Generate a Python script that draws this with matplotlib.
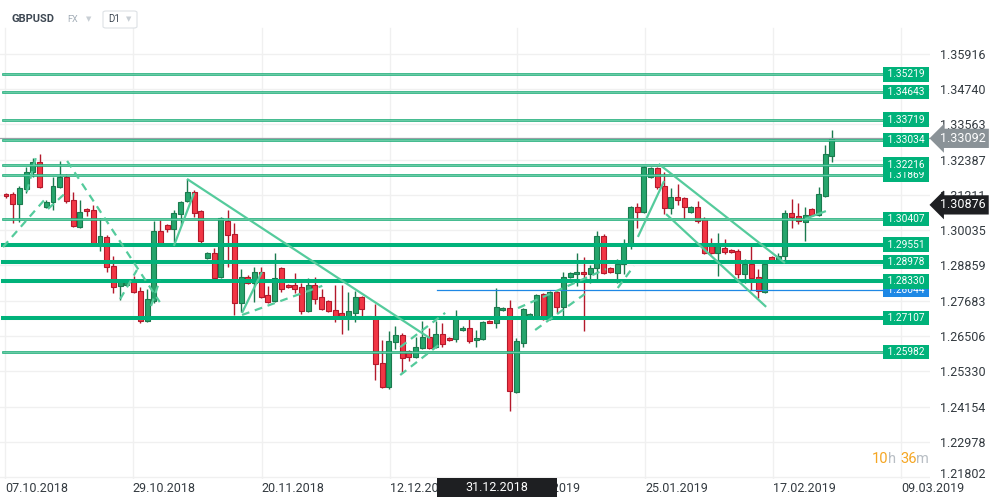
import numpy as np
import matplotlib
matplotlib.use("Agg")
import matplotlib.pyplot as plt
import matplotlib.transforms as mtransforms
from matplotlib.patches import Rectangle, FancyBboxPatch

plt.rcParams["font.family"] = ["Roboto", "DejaVu Sans"]

# GBPUSD daily candles, oldest first
opens = [1.3124, 1.3124, 1.3091, 1.3141, 1.3197, 1.3230, 1.3081, 1.3097, 1.3147, 1.3181,
         1.3104, 1.3014, 1.3074, 1.3071, 1.2957, 1.2981, 1.2884, 1.2818, 1.2821, 1.2834,
         1.2801, 1.2701, 1.2768, 1.3001, 1.3021, 1.3007, 1.3057, 1.3101, 1.3130, 1.3067,
         1.2911, 1.2927, 1.2848, 1.3034, 1.2991, 1.2761, 1.2848, 1.2828, 1.2864, 1.2788,
         1.2768, 1.2877, 1.2821, 1.2821, 1.2814, 1.2734, 1.2821, 1.2781, 1.2768, 1.2738,
         1.2728, 1.2714, 1.2728, 1.2781, 1.2713, 1.2714, 1.2561, 1.2481, 1.2631, 1.2654,
         1.2601, 1.2581, 1.2611, 1.2648, 1.2614, 1.2658, 1.2644, 1.2641, 1.2671, 1.2678,
         1.2638, 1.2641, 1.2701, 1.2694, 1.2738, 1.2744, 1.2465, 1.2628, 1.2714, 1.2718,
         1.2791, 1.2708, 1.2798, 1.2748, 1.2848, 1.2857, 1.2864, 1.2857, 1.2877, 1.2984,
         1.2877, 1.2861, 1.2891, 1.2954, 1.3081, 1.3064, 1.3181, 1.3211, 1.3151, 1.3077,
         1.3114, 1.3111, 1.3064, 1.3081, 1.3041, 1.2957, 1.2927, 1.2944, 1.2937, 1.2934,
         1.2857, 1.2891, 1.2848, 1.2798, 1.2914, 1.2897, 1.2917, 1.3061, 1.3051, 1.3031,
         1.3074, 1.3054, 1.3117, 1.3250]
highs = [1.3127, 1.3130, 1.3151, 1.3214, 1.3244, 1.3257, 1.3104, 1.3181, 1.3234, 1.3191,
         1.3130, 1.3104, 1.3077, 1.3087, 1.3044, 1.2987, 1.2917, 1.2841, 1.2834, 1.2851,
         1.2814, 1.2808, 1.3034, 1.3037, 1.3024, 1.3071, 1.3101, 1.3174, 1.3137, 1.3071,
         1.2931, 1.2944, 1.3047, 1.3071, 1.3027, 1.2874, 1.2854, 1.2881, 1.2881, 1.2818,
         1.2927, 1.2881, 1.2824, 1.2861, 1.2828, 1.2844, 1.2848, 1.2808, 1.2771, 1.2821,
         1.2821, 1.2798, 1.2801, 1.2784, 1.2717, 1.2758, 1.2638, 1.2668, 1.2684, 1.2661,
         1.2604, 1.2648, 1.2701, 1.2678, 1.2701, 1.2694, 1.2648, 1.2738, 1.2684, 1.2718,
         1.2671, 1.2701, 1.2704, 1.2811, 1.2748, 1.2771, 1.2644, 1.2744, 1.2728, 1.2791,
         1.2794, 1.2801, 1.2801, 1.2864, 1.2864, 1.2927, 1.2914, 1.2887, 1.3001, 1.2991,
         1.2881, 1.2907, 1.2974, 1.3084, 1.3094, 1.3217, 1.3214, 1.3214, 1.3197, 1.3144,
         1.3157, 1.3114, 1.3084, 1.3101, 1.3047, 1.2977, 1.2994, 1.2974, 1.2941, 1.2941,
         1.2907, 1.2957, 1.2874, 1.2891, 1.2917, 1.2927, 1.3071, 1.3107, 1.3094, 1.3081,
         1.3077, 1.3147, 1.3287, 1.3337]
lows = [1.3111, 1.3027, 1.3031, 1.3127, 1.3181, 1.3144, 1.3077, 1.3071, 1.3144, 1.3094,
        1.3014, 1.3011, 1.3051, 1.2954, 1.2934, 1.2864, 1.2794, 1.2771, 1.2818, 1.2794,
        1.2694, 1.2698, 1.2761, 1.2954, 1.2997, 1.2964, 1.3021, 1.3097, 1.3047, 1.2961,
        1.2907, 1.2831, 1.2844, 1.2881, 1.2721, 1.2731, 1.2824, 1.2764, 1.2778, 1.2761,
        1.2764, 1.2798, 1.2811, 1.2794, 1.2724, 1.2731, 1.2758, 1.2738, 1.2731, 1.2698,
        1.2658, 1.2671, 1.2698, 1.2711, 1.2711, 1.2505, 1.2478, 1.2475, 1.2608, 1.2528,
        1.2568, 1.2578, 1.2608, 1.2608, 1.2611, 1.2614, 1.2634, 1.2631, 1.2668, 1.2628,
        1.2614, 1.2638, 1.2694, 1.2678, 1.2734, 1.2401, 1.2461, 1.2614, 1.2711, 1.2714,
        1.2704, 1.2704, 1.2728, 1.2708, 1.2844, 1.2818, 1.2668, 1.2828, 1.2831, 1.2857,
        1.2861, 1.2828, 1.2857, 1.2941, 1.3011, 1.3061, 1.3177, 1.3141, 1.3057, 1.3057,
        1.3087, 1.3041, 1.3061, 1.3027, 1.2924, 1.2924, 1.2851, 1.2924, 1.2927, 1.2844,
        1.2828, 1.2804, 1.2778, 1.2794, 1.2894, 1.2894, 1.2894, 1.3011, 1.3024, 1.2967,
        1.3051, 1.3051, 1.3114, 1.3230]
closes = [1.3117, 1.3091, 1.3144, 1.3197, 1.3230, 1.3147, 1.3097, 1.3151, 1.3181, 1.3101,
          1.3017, 1.3064, 1.3067, 1.2957, 1.2984, 1.2881, 1.2814, 1.2834, 1.2831, 1.2798,
          1.2701, 1.2774, 1.3001, 1.2961, 1.3007, 1.3061, 1.3097, 1.3130, 1.3061, 1.2967,
          1.2927, 1.2844, 1.3044, 1.2987, 1.2761, 1.2848, 1.2828, 1.2864, 1.2781, 1.2764,
          1.2844, 1.2808, 1.2814, 1.2808, 1.2734, 1.2821, 1.2774, 1.2741, 1.2734, 1.2718,
          1.2714, 1.2734, 1.2781, 1.2741, 1.2716, 1.2558, 1.2481, 1.2634, 1.2654, 1.2578,
          1.2581, 1.2614, 1.2648, 1.2611, 1.2658, 1.2624, 1.2638, 1.2714, 1.2678, 1.2634,
          1.2644, 1.2698, 1.2694, 1.2748, 1.2744, 1.2468, 1.2634, 1.2741, 1.2724, 1.2788,
          1.2708, 1.2798, 1.2748, 1.2848, 1.2861, 1.2864, 1.2857, 1.2877, 1.2984, 1.2861,
          1.2864, 1.2891, 1.2954, 1.3081, 1.3064, 1.3214, 1.3211, 1.3147, 1.3077, 1.3114,
          1.3104, 1.3081, 1.3081, 1.3034, 1.2927, 1.2927, 1.2957, 1.2931, 1.2931, 1.2857,
          1.2891, 1.2844, 1.2801, 1.2891, 1.2897, 1.2917, 1.3061, 1.3047, 1.3034, 1.3054,
          1.3054, 1.3124, 1.3257, 1.33092]

# horizontal levels drawn on the chart
levels_thin = [1.35219, 1.34643, 1.33719, 1.33034, 1.31869, 1.32216, 1.30407, 1.25982]
levels_thick = [1.29551, 1.28978, 1.28330, 1.27107]
ray_level = 1.28044
ray_start = 64.2
cross_price = 1.30876
cross_date = "31.12.2018"

# trend lines (candle index, price)
trend_solid = [((26.95, 1.3174), (63.1, 1.2644)),
               ((25.0, 1.2951), (28.0, 1.3127)),
               ((35.15, 1.2728), (38.1, 1.2864)),
               ((94.1, 1.2981), (98.0, 1.3167)),
               ((97.2, 1.3224), (116.0, 1.2894)),
               ((98.3, 1.3057), (113.2, 1.2748)),
               ((119.0, 1.3041), (122.1, 1.3067))]
trend_dashed = [((-0.45, 1.2947), (6.1, 1.3114)),
                ((6.25, 1.3074), (9.2, 1.3134)),
                ((3.1, 1.3131), (4.5, 1.3250)),
                ((9.1, 1.3234), (22.9, 1.2764)),
                ((17.0, 1.2774), (19.5, 1.2871)),
                ((21.6, 1.2751), (22.9, 1.2837)),
                ((35.15, 1.2721), (47.1, 1.2818)),
                ((58.7, 1.2614), (65.4, 1.2728)),
                ((58.7, 1.2521), (64.6, 1.2624)),
                ((76.25, 1.2744), (89.35, 1.2874)),
                ((78.8, 1.2671), (86.2, 1.2791)),
                ((91.1, 1.2811), (93.5, 1.2884))]

price_ticks = [1.35916, 1.34740, 1.33563, 1.32387, 1.31211, 1.30035, 1.28859,
               1.27683, 1.26506, 1.25330, 1.24154, 1.22978, 1.21802]
date_ticks = [-0.15, 18.9, 38.1, 57.2, 76.1, 95.2, 114.2, 133.3]
date_labels = ["07.10.2018", "29.10.2018", "20.11.2018", "12.12.2018",
               "03.01.2019", "25.01.2019", "17.02.2019", "09.03.2019"]

GREEN, GREEN_EDGE = "#26a56c", "#1b7a4e"
RED, RED_EDGE = "#f23645", "#b3192b"
LEVEL = "#00b27a"
TREND = "#55cb9c"

W, H = 999, 503
fig = plt.figure(figsize=(W / 100, H / 100), dpi=100)
ax = fig.add_axes([0, 24 / H, 930 / W, 479 / H])
ax.set_xlim(-0.894, 137.6)
ax.set_ylim(1.21748, 1.37699)
for s in ax.spines.values():
    s.set_visible(False)

# grid
for p in price_ticks:
    ax.axhline(p, color="#f0f0f0", lw=1, zorder=0)
for d in date_ticks:
    ax.axvline(d, ymax=0.9415, color="#f0f0f0", lw=1, zorder=0)

# candles
o, h, l, c = map(np.array, (opens, highs, lows, closes))
x = np.arange(len(o))
up = c >= o
ax.vlines(x, l, h, colors=np.where(up, GREEN_EDGE, RED_EDGE), lw=1.0, zorder=2)
ax.bar(x, np.maximum(np.abs(c - o), 0.00012), bottom=np.minimum(o, c), width=0.74,
       color=np.where(up, GREEN, RED), edgecolor=np.where(up, GREEN_EDGE, RED_EDGE),
       linewidth=0.8, zorder=3)

blend = mtransforms.blended_transform_factory(ax.transAxes, ax.transData)
box_x = 906 / 930
line_end = 884 / 930

# last price line
ax.axhline(closes[-1], color="#9aa0a6", lw=0.9, zorder=4)

# blue ray
ax.axhline(ray_level, xmin=(ray_start + 0.894) / 138.494, xmax=line_end,
           color="#1e88e5", lw=0.9, zorder=4)
ax.text(box_x, ray_level, " %.5f " % ray_level, transform=blend, ha="center", va="center",
        color="white", size=7.3, zorder=6,
        bbox=dict(boxstyle="square,pad=0.22", fc="#1e88e5", ec="none"))

for lv in levels_thin:
    ax.axhline(lv, xmin=0.003, xmax=line_end, color="#1fae7a", lw=1.9, zorder=4)
    ax.axhline(lv, xmin=0.003, xmax=line_end, color="#8ad9b9", lw=0.5, zorder=4)
for lv in levels_thick:
    ax.axhline(lv, xmin=0.003, xmax=line_end, color=LEVEL, lw=2.9, zorder=4)
for lv in levels_thin + levels_thick:
    ax.text(box_x, lv, " %.5f " % lv, transform=blend, ha="center", va="center",
            color="white", size=7.3, zorder=7,
            bbox=dict(boxstyle="square,pad=0.22", fc=LEVEL, ec="none"))

# trend lines
for (x0, y0), (x1, y1) in trend_solid:
    ax.plot([x0, x1], [y0, y1], color=TREND, lw=1.6, solid_capstyle="butt", zorder=5)
for (x0, y0), (x1, y1) in trend_dashed:
    ax.plot([x0, x1], [y0, y1], color=TREND, lw=1.6, ls=(0, (3.5, 2.6)), zorder=5)

# axes ticks
ax.yaxis.tick_right()
ax.set_yticks(price_ticks, ["%.5f" % p for p in price_ticks])
ax.tick_params(axis="y", length=0, pad=7.2, labelsize=9, labelcolor="#333a40")
ax.set_xticks(date_ticks, date_labels)
ax.tick_params(axis="x", length=0, pad=2, labelsize=9, labelcolor="#333a40")
for t in ax.get_xticklabels():
    t.set_ha("left")
# lowest price label sits a little above its gridline
low_lbl = ax.get_yticklabels()[-1]
low_lbl.set_transform(low_lbl.get_transform()
                      + mtransforms.ScaledTranslation(0, 4 / 100, fig.dpi_scale_trans))

# price tags on the axis
ax.text(1 + 10 / 930, closes[-1], "%.5f" % closes[-1], transform=blend, ha="left",
        va="center", color="white", size=9, clip_on=False, zorder=8,
        bbox=dict(boxstyle="larrow,pad=0.25", fc="#8a9297", ec="none"))
ax.text(1 + 10 / 930, cross_price, "%.5f" % cross_price, transform=blend, ha="left",
        va="center", color="white", size=9, clip_on=False, zorder=8,
        bbox=dict(boxstyle="larrow,pad=0.25", fc="#1e1f22", ec="none"))

# crosshair date tag
fig.add_artist(Rectangle((437 / W, 1 - 497 / H), 120 / W, 19 / H,
                         transform=fig.transFigure, fc="#1e1f22", ec="none", zorder=5))
fig.text(497 / W, 1 - 487.5 / H, cross_date, color="white", size=9,
         ha="center", va="center", zorder=6)

# header
fig.text(12 / W, 1 - 19 / H, "GBPUSD", weight="bold", size=8, color="#3d4752", va="center")
fig.text(67 / W, 1 - 19 / H, "FX", size=6.5, color="#a3adb7", va="center")
fig.text(86 / W, 1 - 19 / H, "▼", size=5, color="#c8ced4", va="center", family="DejaVu Sans")
fig.add_artist(FancyBboxPatch((103 / W, 1 - 28 / H), 34 / W, 17 / H,
                              boxstyle="round,pad=0,rounding_size=0.003",
                              transform=fig.transFigure, fc="white", ec="#dde1e5", lw=0.8))
fig.text(108 / W, 1 - 19.5 / H, "D1", size=7, color="#3d4752", va="center")
fig.text(126 / W, 1 - 19 / H, "▼", size=5, color="#c8ced4", va="center", family="DejaVu Sans")

# countdown
cy = 1 - 459 / H
for xs, s, col in [(872, "10", "#f5a623"), (888.4, "h", "#b8bec4"),
                   (900, "36", "#f5a623"), (916.4, "m", "#b8bec4")]:
    fig.text(xs / W, cy, s, size=10.5, color=col, va="center")

fig.savefig("out.png", dpi=100, facecolor="white")
